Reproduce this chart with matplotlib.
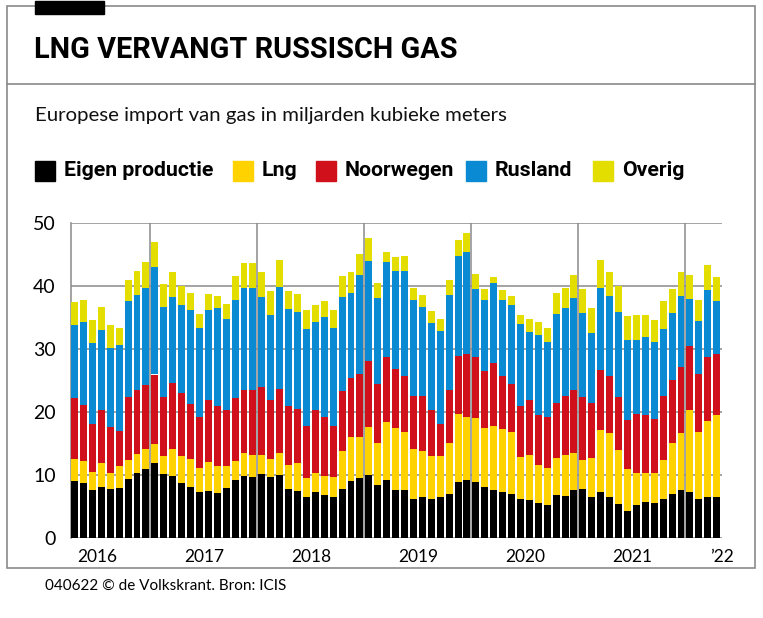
import matplotlib
matplotlib.use("Agg")
import matplotlib.pyplot as plt
from matplotlib.patches import Rectangle
from matplotlib.lines import Line2D
import numpy as np

# Monthly data, April 2016 - April 2022 (billion m3)
months = [f"{y}-{m:02d}" for y in range(2016, 2023) for m in range(1, 13)][3:76]

eigen_productie = [9.1, 8.8, 7.6, 8.1, 7.8, 8.0, 9.4, 10.3, 11.0,
                   11.9, 10.2, 9.9, 8.8, 8.2, 7.4, 7.5, 7.2, 8.0, 9.3, 9.9, 9.7,
                   10.2, 9.7, 10.0, 7.9, 7.5, 6.5, 7.3, 6.8, 6.6, 7.9, 9.1, 9.6,
                   10.1, 8.5, 9.3, 7.7, 7.6, 6.3, 6.5, 6.3, 6.5, 7.1, 8.9, 9.3,
                   9.0, 8.2, 7.6, 7.3, 7.1, 6.2, 6.1, 5.6, 5.3, 6.9, 6.7, 7.6,
                   7.9, 6.6, 7.3, 6.5, 5.4, 4.4, 5.3, 5.8, 5.6, 6.2, 7.0, 7.7,
                   7.3, 6.3, 6.5, 6.5]
lng = [3.5, 3.4, 3.0, 3.8, 2.5, 3.5, 3.0, 3.1, 3.1,
       3.1, 2.9, 4.3, 4.3, 4.4, 3.8, 4.6, 4.2, 3.5, 3.0, 3.6, 3.5,
       3.1, 2.9, 3.5, 3.7, 4.4, 3.1, 3.1, 3.1, 3.1, 5.9, 7.0, 6.5,
       7.5, 6.6, 9.1, 9.8, 9.2, 7.8, 7.4, 6.7, 6.6, 8.1, 10.8, 10.0,
       10.1, 9.3, 10.3, 10.0, 9.8, 6.7, 7.1, 6.0, 5.9, 5.8, 6.5, 5.9,
       4.5, 6.1, 9.9, 10.2, 8.6, 6.6, 5.1, 4.6, 4.8, 6.2, 8.2, 9.0,
       13.0, 10.5, 12.1, 13.1]
noorwegen = [9.7, 8.9, 7.5, 8.4, 7.3, 5.6, 10.1, 10.1, 10.2,
             11.0, 9.4, 10.4, 9.9, 8.7, 8.1, 9.9, 9.6, 8.8, 10.0, 10.1, 10.4,
             10.7, 9.4, 10.2, 9.4, 8.7, 8.3, 10.0, 9.4, 8.2, 9.6, 9.4, 10.0,
             10.6, 9.4, 10.3, 9.3, 9.0, 8.5, 8.7, 7.3, 5.0, 8.3, 9.2, 10.0,
             9.7, 9.1, 10.0, 8.4, 7.6, 8.1, 8.7, 8.0, 8.0, 8.7, 9.4, 10.0,
             10.0, 8.7, 9.5, 9.0, 8.4, 7.7, 9.4, 9.2, 8.6, 10.2, 10.0, 10.5,
             10.2, 9.3, 10.1, 9.6]
rusland = [11.6, 13.2, 12.9, 12.7, 12.6, 13.6, 15.2, 15.1, 15.4,
           17.0, 14.2, 13.7, 14.0, 14.9, 14.1, 14.3, 15.6, 14.5, 15.6, 16.2, 16.2,
           14.3, 13.4, 16.2, 15.4, 15.4, 15.4, 13.9, 15.8, 15.5, 14.9, 13.4, 15.7,
           15.8, 13.6, 15.1, 15.7, 16.7, 15.3, 14.1, 13.8, 14.8, 15.1, 15.9, 16.1,
           10.7, 11.3, 12.6, 12.2, 12.5, 13.0, 10.9, 12.7, 11.9, 14.2, 13.9, 14.7,
           13.3, 11.2, 13.1, 12.8, 13.5, 12.7, 11.7, 12.3, 12.1, 10.7, 10.5, 11.3,
           7.5, 8.4, 10.7, 8.4]
overig = [3.6, 3.5, 3.7, 3.7, 3.6, 2.7, 3.3, 3.8, 4.1,
          4.1, 3.7, 3.9, 3.1, 2.8, 2.2, 2.5, 1.9, 2.4, 3.8, 3.9, 3.9,
          4.0, 3.9, 4.3, 2.8, 2.7, 2.9, 2.7, 2.6, 2.8, 3.3, 3.3, 3.4,
          3.6, 2.5, 1.6, 2.1, 2.3, 1.9, 1.9, 2.0, 1.9, 2.4, 2.6, 3.1,
          2.5, 1.7, 1.0, 1.5, 1.5, 1.4, 2.0, 2.0, 2.3, 3.4, 3.3, 3.6,
          3.8, 3.9, 4.3, 3.8, 4.2, 3.9, 3.9, 3.5, 3.6, 4.3, 3.9, 3.8,
          3.8, 3.4, 4.0, 3.9]

series_names = ["Eigen productie", "Lng", "Noorwegen", "Rusland", "Overig"]
series_colors = ["#000000", "#FFD200", "#D0101B", "#0A8AD2", "#E4DD00"]
year_labels = ["2016", "2017", "2018", "2019", "2020", "2021", "\u201922"]

W, H = 763, 618
fig = plt.figure(figsize=(W / 100, H / 100), dpi=100)

def fx(x):
    return x / W

def fy(y):
    return 1 - y / H

BOLD = ["Roboto", "DejaVu Sans"]
LIGHT = ["Lato", "DejaVu Sans"]

# frame
fig.add_artist(Rectangle((fx(7), fy(568)), fx(755) - fx(7), fy(6) - fy(568),
                         fill=False, edgecolor="#8a8a8a", lw=1.2, transform=fig.transFigure))
fig.add_artist(Line2D([fx(7), fx(755)], [fy(84), fy(84)], color="#8a8a8a", lw=1.2,
                      transform=fig.transFigure))
fig.add_artist(Rectangle((fx(35), fy(14)), fx(104) - fx(35), fy(1) - fy(14),
                         color="black", transform=fig.transFigure))

fig.text(fx(34), fy(50), "LNG VERVANGT RUSSISCH GAS", family=BOLD, weight="bold",
         fontsize=20.8, va="center", ha="left")
fig.text(fx(35), fy(116), "Europese import van gas in miljarden kubieke meters",
         family=LIGHT, weight="normal", fontsize=14.7, va="center", ha="left",
         color="#111111")
fig.text(fx(45), fy(586), "040622 \u00a9 de Volkskrant. Bron: ICIS",
         family=LIGHT, fontsize=11, va="center", ha="left")

# legend
leg_sq_x = [35, 233, 316, 466, 593]
for name, col, sx in zip(series_names, series_colors, leg_sq_x):
    fig.add_artist(Rectangle((fx(sx), fy(181)), fx(20), fy(161) - fy(181), color=col,
                             transform=fig.transFigure))
    fig.text(fx(sx + 29), fy(171), name, family=BOLD, weight="bold", fontsize=15.3,
             va="center", ha="left")

# axes
ax = fig.add_axes([fx(71), fy(538.3), fx(722) - fx(71), fy(223.3) - fy(538.3)])
n = len(months)
x = np.arange(n)
bottom = np.zeros(n)
for vals, col in zip([eigen_productie, lng, noorwegen, rusland, overig], series_colors):
    v = np.array(vals)
    ax.bar(x, v, bottom=bottom, width=0.78, color=col, zorder=3, linewidth=0)
    bottom += v

ax.set_xlim(-0.4, n - 0.7)
ax.set_ylim(0, 50)
ax.set_yticks([0, 10, 20, 30, 40, 50])
for yv in [10, 20, 30, 40, 50]:
    ax.axhline(yv, color="#8a8a8a", lw=1.1, zorder=1)
ax.axhline(0, color="#8a8a8a", lw=1.1, zorder=1)

# year boundaries (January of each year)
month_nums = [int(m[5:]) for m in months]
years = [int(m[:4]) for m in months]
for i in range(1, n):
    if month_nums[i] == 1:
        ax.axvline(i - 0.5, color="#8a8a8a", lw=1.1, zorder=1)

# year labels at centre of each calendar year
uniq_years = sorted(set(years))
label_pos = []
for yr in uniq_years:
    first = years.index(yr) - (month_nums[years.index(yr)] - 1)
    label_pos.append(first + 5.5)
label_pos[-1] = min(label_pos[-1], n - 0.4)
ax.set_xticks(label_pos)
ax.set_xticklabels(year_labels, family=LIGHT, fontsize=12.5)
ax.tick_params(axis="x", length=0, pad=8)
ax.tick_params(axis="y", length=0, pad=11, labelsize=14)
for lab in ax.get_yticklabels():
    lab.set_family(LIGHT)

for s in ["top", "right", "bottom"]:
    ax.spines[s].set_visible(False)
ax.spines["left"].set_color("#8a8a8a")
ax.spines["left"].set_linewidth(1.1)
ax.patch.set_alpha(0)

fig.savefig("out.png", dpi=100)
